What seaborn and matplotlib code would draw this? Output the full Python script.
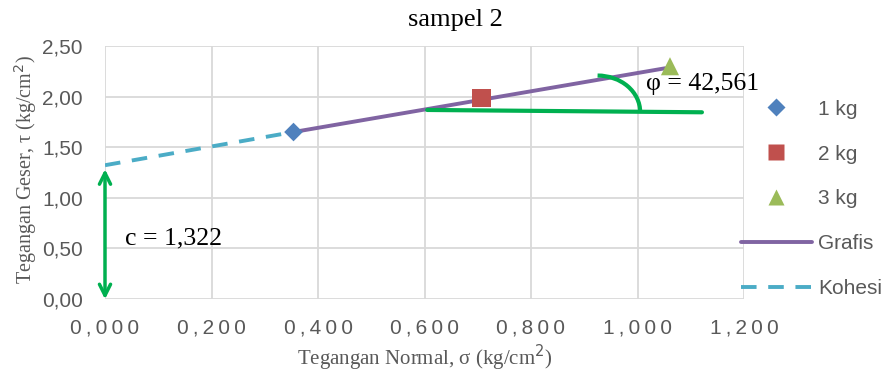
import matplotlib
matplotlib.use("Agg")
import matplotlib.pyplot as plt
from matplotlib.patches import Arc
from matplotlib.lines import Line2D
import seaborn as sns
import pandas as pd

# ---- data ----
labels = ["1 kg", "2 kg", "3 kg"]
sigma = [0.354, 0.707, 1.061]
tau = [1.65, 1.99, 2.30]
grafis_x = [0.354, 1.052]
grafis_y = [1.65, 2.28]
kohesi_x = [0.000, 0.354]
kohesi_y = [1.322, 1.65]
green_x = [0.605, 1.121]
green_y = [1.868, 1.845]
c_value = "1,322"
phi_value = "42,561"
xticks = [0.0, 0.2, 0.4, 0.6, 0.8, 1.0, 1.2]
xticklabels = ["0,000", "0,200", "0,400", "0,600", "0,800", "1,000", "1,200"]
yticks = [0.0, 0.5, 1.0, 1.5, 2.0, 2.5]
yticklabels = ["0,00", "0,50", "1,00", "1,50", "2,00", "2,50"]

sns.set_theme(style="white")
plt.rcParams["font.family"] = ["Liberation Sans", "DejaVu Sans"]

fig = plt.figure(figsize=(8.91, 3.74), dpi=100)
ax = fig.add_axes([105/891, 1-299/374, (744-105)/891, (299-46)/374])

colors = {"1 kg": "#4F81BD", "2 kg": "#C0504D", "3 kg": "#9BBB59"}
markers = {"1 kg": "D", "2 kg": "s", "3 kg": "^"}
sizes = {"1 kg": 90, "2 kg": 170, "3 kg": 170}

kohesi = pd.DataFrame({"x": kohesi_x, "y": kohesi_y})
grafis = pd.DataFrame({"x": grafis_x, "y": grafis_y})
green = pd.DataFrame({"x": green_x, "y": green_y})
sns.lineplot(data=kohesi, x="x", y="y", ax=ax, color="#4BACC6", lw=2.8,
             linestyle=(0, (4, 3)), zorder=3)
sns.lineplot(data=grafis, x="x", y="y", ax=ax, color="#8064A2", lw=2.8, zorder=3)
sns.lineplot(data=green, x="x", y="y", ax=ax, color="#00B050", lw=3, zorder=3)

for lab, sx, ty in zip(labels, sigma, tau):
    d = pd.DataFrame({"x": [sx], "y": [ty]})
    sns.scatterplot(data=d, x="x", y="y", ax=ax, color=colors[lab], marker=markers[lab],
                    s=sizes[lab], edgecolor="none", zorder=4)

arc = Arc((0.925, 1.848), 0.160, 0.72, theta1=0, theta2=90, color="#00B050", lw=3, zorder=3)
ax.add_patch(arc)

ax.annotate("", xy=(0.0, -0.03), xytext=(0.0, 1.31),
            arrowprops=dict(arrowstyle="<->", color="#00B050", lw=2.5, mutation_scale=20),
            annotation_clip=False, zorder=5)

fig.text(125/891, 1-244/374, f"c = {c_value}", fontsize=18.5, family=["Liberation Serif"], color="black")
fig.text(646/891, 1-90/374, f"φ = {phi_value}", fontsize=18.5, family=["Liberation Serif", "DejaVu Serif"],
         color="black", zorder=6)

ax.set_xlim(0, 1.2)
ax.set_ylim(0, 2.5)
ax.set_xticks(xticks)
ax.set_xticklabels(["\u2009".join(t) for t in xticklabels], fontsize=15, color="#595959")
ax.set_yticks(yticks)
ax.set_yticklabels(yticklabels, fontsize=15, color="#595959")
ax.tick_params(axis="x", length=0, pad=14)
ax.tick_params(axis="y", length=0, pad=16)
ax.grid(True, color="#D9D9D9", lw=1.3)
for s in ax.spines.values():
    s.set_visible(False)
ax.set_xlabel("Tegangan Normal, σ (kg/cm$^2$)", fontsize=15, color="#595959",
              family=["Liberation Serif", "DejaVu Serif"], labelpad=4)
ax.set_ylabel("")
fig.text(26/891, 1-170/374, "Tegangan Geser, τ (kg/cm$^2$)", fontsize=14.5, color="#595959",
         family=["Liberation Serif", "DejaVu Serif"], rotation=90, ha="center", va="center")
fig.text(455/891, 1-20/374, "sampel 2", fontsize=19, family=["Liberation Serif"], color="black",
         ha="center", va="center")

handles = [
    Line2D([], [], marker="D", color="none", markerfacecolor="#4F81BD", markeredgecolor="none", markersize=9),
    Line2D([], [], marker="s", color="none", markerfacecolor="#C0504D", markeredgecolor="none", markersize=12),
    Line2D([], [], marker="^", color="none", markerfacecolor="#9BBB59", markeredgecolor="none", markersize=12),
    Line2D([], [], color="#8064A2", lw=2.8),
    Line2D([], [], color="#4BACC6", lw=2.8, linestyle=(0, (4, 3))),
]
fig.legend(handles, labels + ["Grafis", "Kohesi"], loc="upper left",
           bbox_to_anchor=(722/891, 1-81/374), frameon=False, fontsize=15,
           labelcolor="#595959", handlelength=3.4, handletextpad=0.3, labelspacing=1.24)

fig.savefig("out.png", dpi=100)
